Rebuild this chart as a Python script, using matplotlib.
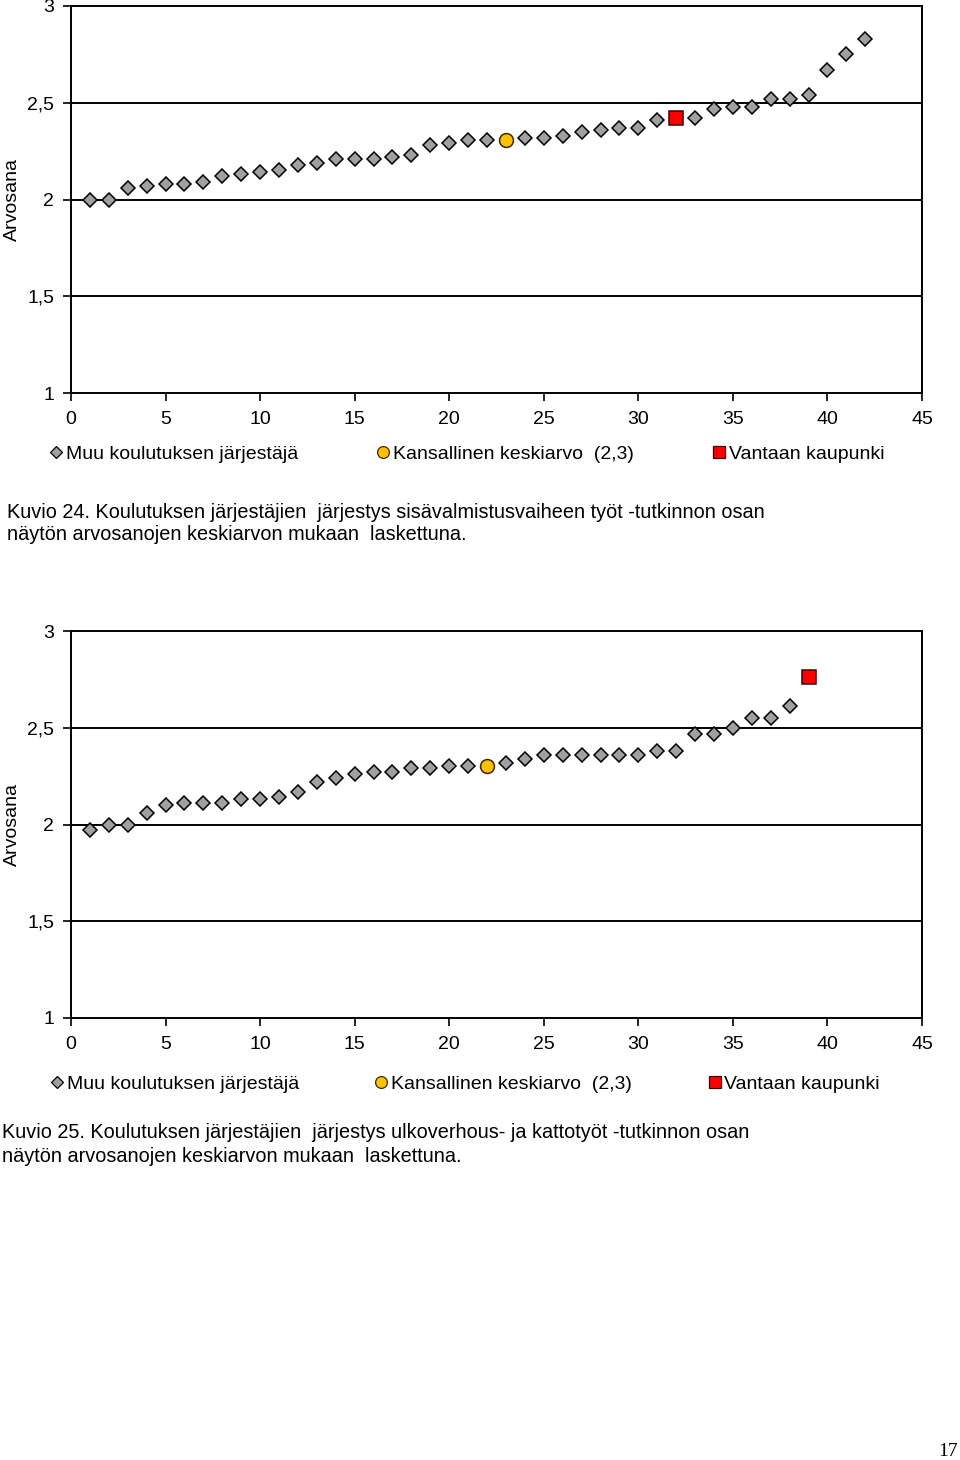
import numpy as np
import matplotlib
matplotlib.use('Agg')
import matplotlib.pyplot as plt
from matplotlib.lines import Line2D

plt.rcParams['font.family'] = ['Liberation Sans', 'DejaVu Sans']

# Kuvio 24: arvosanojen keskiarvot järjestyksessä (sija 1..42)
k24_arvot = [2.00, 2.00, 2.06, 2.07, 2.08, 2.08, 2.09, 2.12, 2.13, 2.14,
             2.15, 2.18, 2.19, 2.21, 2.21, 2.21, 2.22, 2.23, 2.28, 2.29,
             2.31, 2.31, 2.31, 2.32, 2.32, 2.33, 2.35, 2.36, 2.37, 2.37,
             2.41, 2.42, 2.42, 2.47, 2.48, 2.48, 2.52, 2.52, 2.54, 2.67,
             2.75, 2.83]
k24_ka_sija = 23
k24_vantaa_sija = 32

# Kuvio 25 (sija 1..39)
k25_arvot = [1.97, 2.00, 2.00, 2.06, 2.10, 2.11, 2.11, 2.11, 2.13, 2.13,
             2.14, 2.17, 2.22, 2.24, 2.26, 2.27, 2.27, 2.29, 2.29, 2.30,
             2.30, 2.30, 2.32, 2.34, 2.36, 2.36, 2.36, 2.36, 2.36, 2.36,
             2.38, 2.38, 2.47, 2.47, 2.50, 2.55, 2.55, 2.61, 2.76]
k25_ka_sija = 22
k25_vantaa_sija = 39

y_ticks = [1, 1.5, 2, 2.5, 3]
y_labels = ['1', '1,5', '2', '2,5', '3']
x_ticks = list(range(0, 50, 5))

sarjat = ['Muu koulutuksen järjestäjä', 'Kansallinen keskiarvo  (2,3)', 'Vantaan kaupunki']

k24_kuvaus = ['Kuvio 24. Koulutuksen järjestäjien  järjestys sisävalmistusvaiheen työt -tutkinnon osan',
              'näytön arvosanojen keskiarvon mukaan  laskettuna.']
k25_kuvaus = ['Kuvio 25. Koulutuksen järjestäjien  järjestys ulkoverhous- ja kattotyöt -tutkinnon osan',
              'näytön arvosanojen keskiarvon mukaan  laskettuna.']

W, H = 960, 1460
fig = plt.figure(figsize=(W / 100, H / 100), dpi=100)

harmaa = '#A0A0A0'
kulta = '#FFC000'
puna = '#FF0000'
fs = 14


def piirra(top, arvot, ka_sija, vantaa_sija, leg_y, leg_x, leg_vali, kuvaus, kuv_x, kuv_y):
    ax = fig.add_axes([71 / W, 1 - (top + 387) / H, 851 / W, 387 / H])
    arvot = np.array(arvot)
    x = np.arange(1, len(arvot) + 1)
    muu = (x != ka_sija) & (x != vantaa_sija)
    ax.plot(x[muu], arvot[muu], ls='none', marker='D', ms=7, mfc=harmaa,
            mec='black', mew=1.1, zorder=3, clip_on=False)
    ax.plot(x[x == ka_sija], arvot[x == ka_sija], ls='none', marker='o', ms=10,
            mfc=kulta, mec='#3a2a00', mew=1.1, zorder=4, clip_on=False)
    ax.plot(x[x == vantaa_sija], arvot[x == vantaa_sija], ls='none', marker='s', ms=10,
            mfc=puna, mec='#400000', mew=1.1, zorder=4, clip_on=False)

    ax.set_xlim(0, 45)
    ax.set_ylim(1, 3)
    ax.set_xticks(x_ticks)
    ax.set_yticks(y_ticks)
    ax.set_yticklabels(y_labels)
    for s in ax.spines.values():
        s.set_linewidth(1.4)
        s.set_color('black')
    for g in [1.5, 2, 2.5]:
        ax.axhline(g, color='black', lw=1.4, zorder=1)
    ax.tick_params(axis='both', direction='out', length=6, width=1.2,
                   labelsize=fs, colors='black')
    ax.tick_params(axis='x', pad=7)
    ax.tick_params(axis='y', pad=6)
    ax.set_ylabel('Arvosana', fontsize=fs)
    ax.yaxis.set_label_coords(-50 / 851, 0.5)

    kahvat = [
        Line2D([], [], ls='none', marker='D', ms=6, mfc=harmaa, mec='black', mew=0.9),
        Line2D([], [], ls='none', marker='o', ms=8.5, mfc=kulta, mec='#3a2a00', mew=0.9),
        Line2D([], [], ls='none', marker='s', ms=8.5, mfc=puna, mec='#400000', mew=0.9),
    ]
    fig.legend(kahvat, sarjat, loc='center left', bbox_to_anchor=(leg_x / W, 1 - leg_y / H),
               ncol=3, frameon=False, fontsize=fs, handlelength=0.7, handletextpad=0.15,
               columnspacing=leg_vali, borderpad=0, borderaxespad=0)

    for i, rivi in enumerate(kuvaus):
        fig.text(kuv_x / W, 1 - (kuv_y + 23 * i) / H, rivi, fontsize=14.3,
                 va='center', ha='left')


piirra(6, k24_arvot, k24_ka_sija, k24_vantaa_sija, 454, 49, 4.05, k24_kuvaus, 7, 512)
piirra(631, k25_arvot, k25_ka_sija, k25_vantaa_sija, 1084, 50, 3.9, k25_kuvaus, 2, 1133)

fig.text(948 / W, 1 - 1452 / H, '17', fontsize=14, family='Liberation Serif',
         ha='center', va='center')

fig.savefig('out.png', dpi=100)
